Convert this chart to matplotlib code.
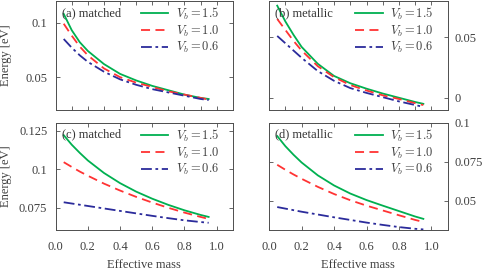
import matplotlib
matplotlib.use('Agg')
import matplotlib.pyplot as plt
from matplotlib.ticker import FixedLocator, FormatStrFormatter

plt.rcParams['font.family'] = ['Liberation Serif', 'DejaVu Serif']
plt.rcParams['mathtext.fontset'] = 'cm'
plt.rcParams['font.size'] = 9

# effective mass grid
mass = [0.05, 0.1, 0.15, 0.2, 0.3, 0.4, 0.5, 0.6, 0.7, 0.8, 0.9, 0.95]

# (a) matched
a_15 = [0.108, 0.093, 0.082, 0.074, 0.062, 0.053, 0.047, 0.042, 0.038, 0.034, 0.031, 0.030]
a_10 = [0.099, 0.088, 0.078, 0.070, 0.058, 0.050, 0.045, 0.041, 0.037, 0.034, 0.031, 0.0295]
a_06 = [0.085, 0.077, 0.070, 0.064, 0.055, 0.048, 0.043, 0.039, 0.036, 0.033, 0.030, 0.029]

# (b) metallic
b_15 = [0.076, 0.063, 0.052, 0.042, 0.028, 0.018, 0.012, 0.0075, 0.0035, 0.0, -0.0035, -0.005]
b_10 = [0.065, 0.056, 0.047, 0.039, 0.026, 0.017, 0.0105, 0.006, 0.002, -0.001, -0.0045, -0.006]
b_06 = [0.051, 0.045, 0.039, 0.033, 0.022, 0.014, 0.008, 0.004, 0.0005, -0.003, -0.006, -0.0075]

# (c) matched
c_15 = [0.122, 0.1158, 0.1105, 0.1056, 0.0975, 0.0909, 0.0854, 0.0808, 0.0768, 0.0733, 0.0703, 0.069]
c_10 = [0.1045, 0.1014, 0.0984, 0.0957, 0.0906, 0.0861, 0.0820, 0.0783, 0.0749, 0.0718, 0.0690, 0.0677]
c_06 = [0.0785, 0.0777, 0.0769, 0.0761, 0.0745, 0.0729, 0.0713, 0.0697, 0.0682, 0.0668, 0.0657, 0.0652]

# (d) metallic
d_15 = [0.0915, 0.085, 0.0795, 0.0745, 0.0662, 0.0597, 0.0545, 0.0503, 0.0467, 0.0432, 0.0397, 0.0382]
d_10 = [0.073, 0.0698, 0.0668, 0.064, 0.0588, 0.0542, 0.0502, 0.0467, 0.0436, 0.0405, 0.0375, 0.0362]
d_06 = [0.0458, 0.0448, 0.0438, 0.0428, 0.041, 0.0392, 0.0375, 0.0358, 0.0343, 0.0329, 0.0318, 0.0314]

labels = ['$V_b = 1.5$', '$V_b = 1.0$', '$V_b = 0.6$']
colors = ['#00b050', '#ff3333', '#2b2b9b']
styles = ['-', (0, (5, 3)), (0, (6, 2, 1.5, 2))]

fig = plt.figure(figsize=(4.84, 2.70), dpi=100)
w_l, w_r = 0.366, 0.369
axa = fig.add_axes([0.115, 0.593, w_l, 0.404])
axb = fig.add_axes([0.556, 0.593, w_r, 0.404])
axc = fig.add_axes([0.115, 0.148, w_l, 0.397])
axd = fig.add_axes([0.556, 0.148, w_r, 0.397])

panels = [
    (axa, [a_15, a_10, a_06], '(a) matched', (0.02, 0.12), [0.05, 0.1]),
    (axb, [b_15, b_10, b_06], '(b) metallic', (-0.01, 0.08), [0, 0.05]),
    (axc, [c_15, c_10, c_06], '(c) matched', (0.0605, 0.13), [0.075, 0.1, 0.125]),
    (axd, [d_15, d_10, d_06], '(d) metallic', (0.031, 0.1), [0.05, 0.075, 0.1]),
]

for ax, series, title, ylim, yt in panels:
    for ys, lab, c, ls in zip(series, labels, colors, styles):
        ax.plot(mass, ys, color=c, linestyle=ls, linewidth=1.3, label=lab)
    ax.set_xlim(0, 1.1)
    ax.set_ylim(*ylim)
    ax.yaxis.set_major_locator(FixedLocator(yt))
    ax.yaxis.set_major_formatter(FormatStrFormatter('%g'))
    ax.tick_params(direction='in', top=True, right=True, length=3, width=0.6,
                   colors='0.3', labelcolor='0.25', labelsize=9, pad=6)
    for s in ax.spines.values():
        s.set_color('0.3')
        s.set_linewidth(0.7)
    ax.text(0.034, 0.89, title, transform=ax.transAxes, ha='left', va='center',
            fontsize=9, color='0.2')
    ax.legend(loc='upper right', bbox_to_anchor=(0.95, 1.0), frameon=False,
              fontsize=9, handlelength=2.2, labelspacing=0.12, borderaxespad=0.0,
              handletextpad=0.6, labelcolor='0.25')

for ax in (axa, axb):
    ax.xaxis.set_major_locator(FixedLocator([0.1 * i for i in range(1, 11)]))
    ax.tick_params(labelbottom=False)
for ax in (axc, axd):
    ax.xaxis.set_major_locator(FixedLocator([0, 0.2, 0.4, 0.6, 0.8, 1.0]))
    ax.xaxis.set_major_formatter(FormatStrFormatter('%.1f'))
    ax.tick_params(axis='x', pad=8)
    ax.set_xlabel('Effective mass', color='0.25', labelpad=4)
for ax in (axb, axd):
    ax.tick_params(labelleft=False, labelright=True)
    ax.tick_params(axis='y', pad=5)
for ax in (axa, axc):
    ax.set_ylabel('Energy [eV]', color='0.25')
    ax.yaxis.set_label_coords(-0.248, 0.5)

fig.savefig('out.png', dpi=100)
